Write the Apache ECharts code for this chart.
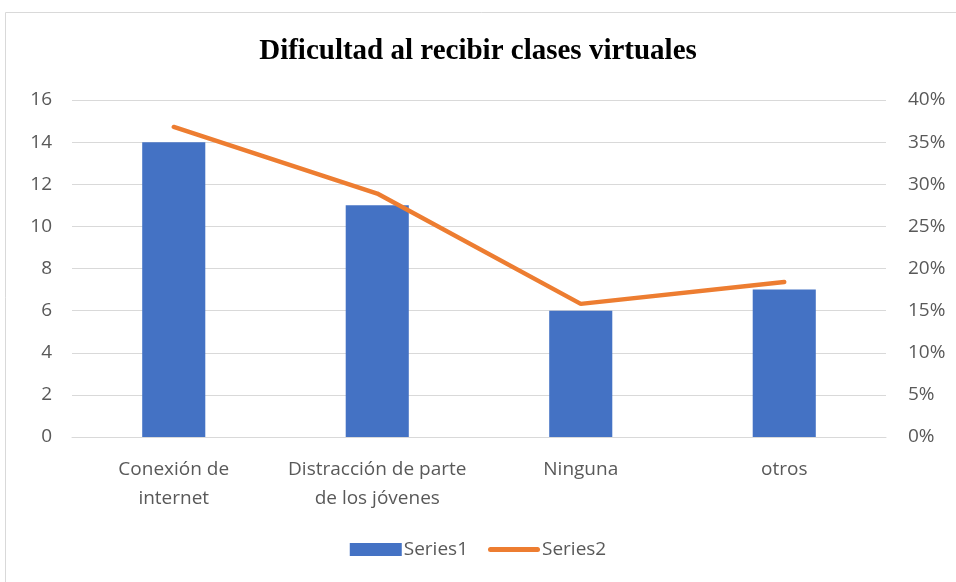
<!DOCTYPE html>
<html>
<head>
<meta charset="utf-8">
<script src="https://cdn.jsdelivr.net/npm/echarts@6/dist/echarts.min.js"></script>
<style>
  html, body { margin: 0; padding: 0; background: #fff; }
  #chart { width: 956px; height: 582px; }
</style>
</head>
<body>
<div id="chart"></div>
<script>
const categories = ['Conexión de\ninternet', 'Distracción de parte\nde los jóvenes', 'Ninguna', 'otros']
const series1 = [14, 11, 6, 7]
const series2 = [0.368, 0.289, 0.158, 0.184]

const labelFont = '"Open Sans", Lato, sans-serif'

const myChart = echarts.init(document.getElementById('chart'))

const option = {
  animation: false,
  backgroundColor: '#fff',
  graphic: [{
    type: 'rect',
    shape: { x: 5.5, y: 12.5, width: 960, height: 580 },
    style: { fill: 'none', stroke: '#d9d9d9', lineWidth: 1 },
    silent: true
  }],
  title: {
    text: 'Dificultad al recibir clases virtuales',
    left: 'center',
    top: 32,
    textStyle: {
      fontFamily: '"Liberation Serif", "Times New Roman", serif',
      fontWeight: 'bold',
      fontSize: 29,
      color: '#000'
    }
  },
  legend: {
    bottom: 18,
    left: 'center',
    itemGap: 20,
    itemWidth: 52,
    itemHeight: 13,
    symbolKeepAspect: true,
    textStyle: { fontFamily: labelFont, fontSize: 19, color: '#595959', padding: [0, 0, 0, -3] },
    data: [
      { name: 'Series1', icon: 'rect' },
      { name: 'Series2', icon: 'path://M2.5,0H49.5A2.5,2.5 0 0 1 49.5,5H2.5A2.5,2.5 0 0 1 2.5,0Z', itemStyle: { color: '#ED7D31' } }
    ]
  },
  grid: { left: 72, right: 70, top: 100, bottom: 145 },
  xAxis: {
    type: 'category',
    data: categories,
    axisTick: { show: false },
    axisLine: { lineStyle: { color: '#d9d9d9', width: 1 } },
    axisLabel: {
      interval: 0,
      margin: 18,
      lineHeight: 29,
      fontFamily: labelFont,
      fontSize: 19,
      color: '#595959'
    }
  },
  yAxis: [{
    type: 'value',
    min: 0,
    max: 16,
    interval: 2,
    axisLine: { show: false },
    axisTick: { show: false },
    splitLine: { lineStyle: { color: '#d9d9d9', width: 1 } },
    axisLabel: { margin: 20, fontFamily: labelFont, fontSize: 19, color: '#595959' }
  }, {
    type: 'value',
    min: 0,
    max: 0.4,
    interval: 0.05,
    axisLine: { show: false },
    axisTick: { show: false },
    splitLine: { show: false },
    axisLabel: {
      margin: 22,
      fontFamily: labelFont,
      fontSize: 19,
      color: '#595959',
      formatter: v => Math.round(v * 100) + '%'
    }
  }],
  series: [{
    name: 'Series1',
    type: 'bar',
    data: series1,
    barWidth: '31%',
    itemStyle: { color: '#4472C4' }
  }, {
    name: 'Series2',
    type: 'line',
    yAxisIndex: 1,
    data: series2,
    showSymbol: false,
    symbol: 'none',
    lineStyle: { color: '#ED7D31', width: 4.5, cap: 'round' },
    itemStyle: { color: '#ED7D31' }
  }]
}

myChart.setOption(option)
</script>
</body>
</html>
